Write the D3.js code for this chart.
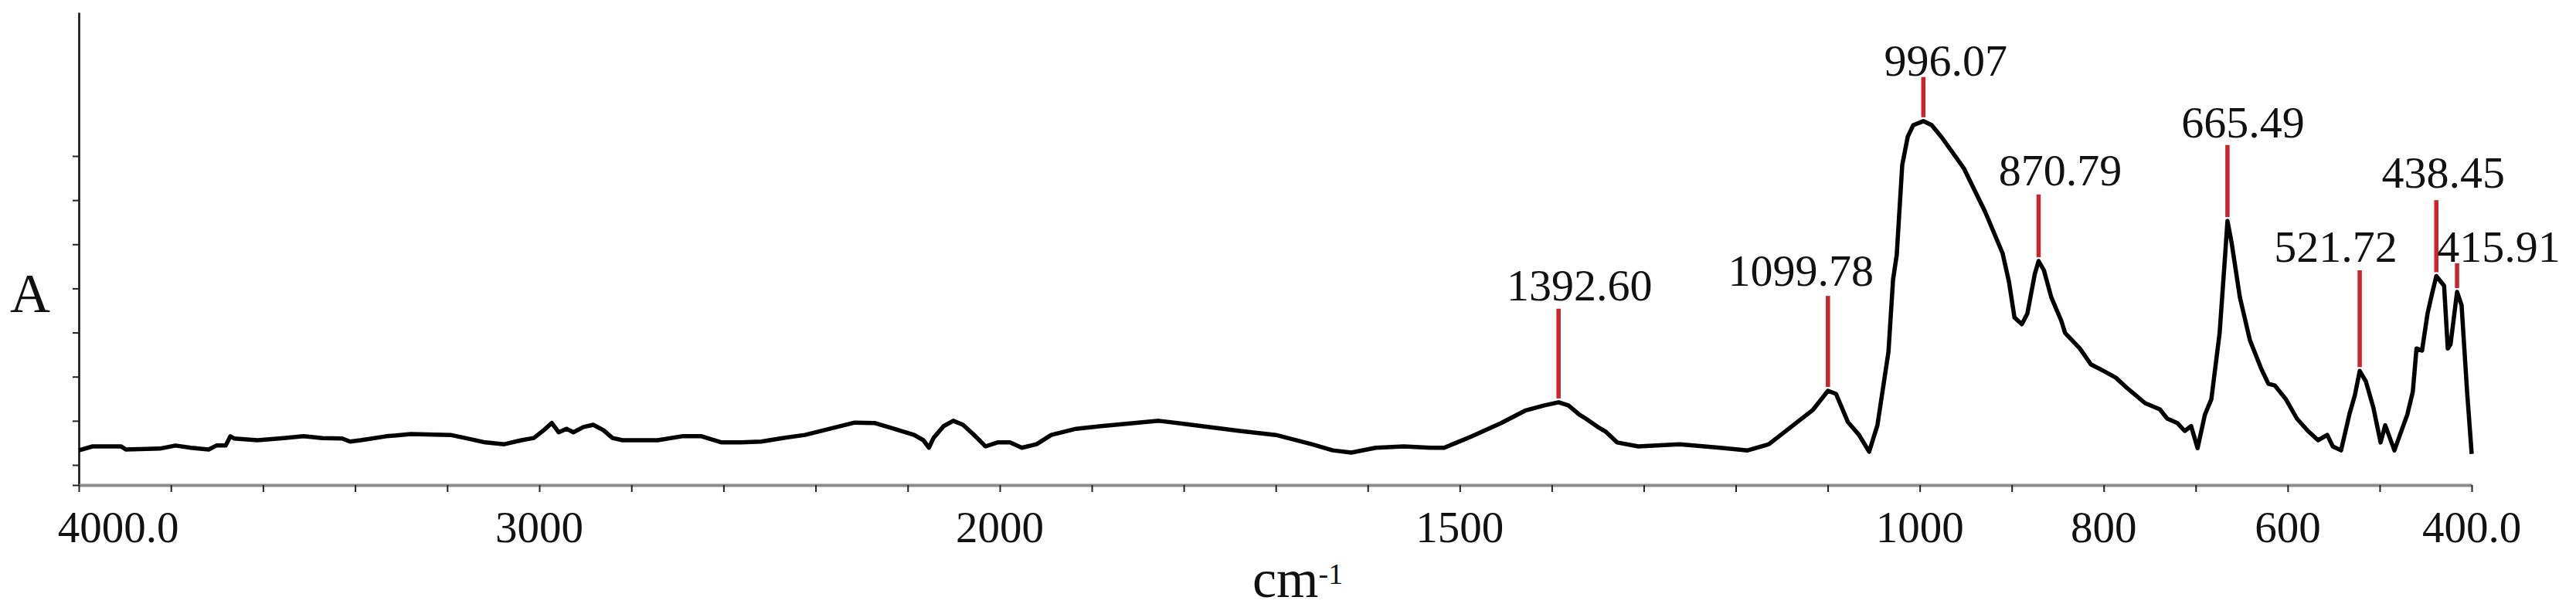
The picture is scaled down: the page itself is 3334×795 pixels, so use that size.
<!DOCTYPE html>
<meta charset="utf-8">
<head>
  <title>IR spectrum</title>
  <style>
    body { margin: 0; background: #fff; }
    text { font-family: "Liberation Serif", "Times New Roman", serif; fill: #111; }
  </style>
</head>
<body>
<div id="my_dataviz"></div>
<script src="https://d3js.org/d3.v7.min.js"></script>
<script>

// spectrum: [wavenumber cm-1, absorbance]
var spectrum = [
  [4000,0.033],[3970,0.042],[3908,0.042],[3898,0.035],[3824,0.037],[3790,0.044],[3757,0.039],
  [3718,0.035],[3701,0.044],[3681,0.044],[3671,0.065],[3663,0.060],[3612,0.056],[3555,0.061],
  [3512,0.065],[3471,0.061],[3428,0.060],[3411,0.053],[3388,0.056],[3332,0.065],[3279,0.070],
  [3193,0.068],[3161,0.061],[3117,0.051],[3076,0.047],[3039,0.056],[3012,0.061],[2990,0.079],
  [2973,0.095],[2958,0.074],[2941,0.082],[2926,0.074],[2904,0.086],[2883,0.091],[2861,0.079],
  [2841,0.061],[2819,0.056],[2743,0.056],[2690,0.065],[2648,0.065],[2604,0.051],[2562,0.051],
  [2518,0.053],[2477,0.060],[2423,0.068],[2369,0.082],[2315,0.096],[2272,0.095],[2230,0.082],
  [2186,0.068],[2166,0.056],[2154,0.039],[2144,0.061],[2122,0.088],[2101,0.100],[2080,0.091],
  [2058,0.070],[2031,0.042],[2005,0.051],[1989,0.051],[1976,0.039],[1960,0.047],[1944,0.068],
  [1917,0.082],[1890,0.088],[1827,0.100],[1792,0.091],[1739,0.077],[1700,0.068],[1661,0.047],
  [1638,0.033],[1618,0.028],[1591,0.039],[1561,0.042],[1532,0.039],[1517,0.039],[1503,0.051],
  [1488,0.064],[1455,0.095],[1429,0.123],[1408,0.135],[1392.6,0.142],[1382,0.135],[1370,0.114],
  [1363,0.105],[1350,0.086],[1341,0.075],[1329,0.051],[1306,0.042],[1261,0.047],[1217,0.039],
  [1187,0.033],[1164,0.047],[1140,0.086],[1116,0.125],[1099.78,0.168],[1091,0.161],[1078,0.097],
  [1066,0.068],[1055,0.030],[1046,0.090],[1034,0.256],[1029,0.420],[1025,0.476],[1019,0.680],
  [1013,0.744],[1007,0.770],[996.07,0.779],[987,0.770],[976,0.742],[952,0.672],[929,0.574],
  [910,0.480],[903,0.415],[897,0.334],[889,0.319],[883,0.343],[875,0.432],[870.79,0.462],
  [865,0.441],[857,0.380],[846,0.326],[842,0.299],[826,0.264],[814,0.228],[802,0.215],
  [787,0.198],[775,0.175],[755,0.140],[739,0.126],[731,0.105],[720,0.095],[712,0.077],
  [705,0.088],[698,0.038],[690,0.114],[683,0.149],[674,0.299],[668,0.476],[665.49,0.553],
  [661,0.504],[652,0.380],[641,0.282],[629,0.219],[621,0.184],[614,0.180],[602,0.149],
  [590,0.105],[578,0.077],[567,0.056],[557,0.068],[551,0.042],[542,0.033],[533,0.114],
  [527,0.158],[521.72,0.213],[515,0.189],[507,0.131],[499,0.051],[494,0.090],[484,0.033],
  [478,0.068],[470,0.114],[464,0.166],[460,0.264],[454,0.259],[448,0.343],[444,0.380],
  [438.45,0.428],[430,0.406],[426,0.264],[423,0.273],[415.91,0.392],[411,0.362],[405,0.166],
  [400,0.025]
];

// labelled peaks and the absorbance where each red mark starts
var peakPositions = [1392.60, 1099.78, 996.07, 870.79, 665.49, 521.72, 438.45, 415.91];
var peakLabels = ["1392.60", "1099.78", "996.07", "870.79", "665.49", "521.72", "438.45", "415.91"];
var peakMarkTop = [0.354, 0.383, 0.879, 0.613, 0.725, 0.441, 0.600, 0.457];

// axis ticks
var xTicks = d3.range(4000, 2000, -200).concat(d3.range(2000, 399, -100));
var xLabelValues = [4000, 3000, 2000, 1500, 1000, 800, 600, 400];
var xLabelTexts = ["4000.0", "3000", "2000", "1500", "1000", "800", "600", "400.0"];
var yTicks = [-0.0455, 0, 0.1, 0.2, 0.3, 0.4, 0.5, 0.6, 0.7];

// label nudges (layout only)
var labelDx = [27, -35, 29, 28, 20, -31, 9, 54];
var labelGap = [11, 13, 2, 12, 10, 11, 16, 2];

var width = 3334, height = 795;
var plotLeft = 102, plotRight = 3199, xBreak = 1294, plotBase = 628, plotTop = 16;

var svg = d3.select("#my_dataviz")
  .append("svg")
    .attr("width", width)
    .attr("height", height);

// wavenumber axis is compressed above 2000
var x = d3.scaleLinear()
    .domain([4000, 2000, 400])
    .range([plotLeft, xBreak, plotRight]);

var y = d3.scaleLinear()
    .domain([-0.0455, 1.0255])
    .range([plotBase, plotTop]);

// y axis (no labels)
var yAxis = svg.append("g")
    .attr("transform", "translate(" + plotLeft + ",0)")
    .call(d3.axisLeft(y).tickValues(yTicks).tickSize(8).tickSizeOuter(0).tickFormat(""));
yAxis.select(".domain").style("stroke", "#111").style("stroke-width", "2.6px");
yAxis.selectAll(".tick line").style("stroke", "#222").style("stroke-width", "2px");

// x axis
var xAxis = svg.append("g")
    .attr("transform", "translate(0," + plotBase + ")")
    .call(d3.axisBottom(x).tickValues(xTicks).tickSize(9).tickSizeOuter(0).tickFormat(""));
xAxis.select(".domain").style("stroke", "#8c8c8c").style("stroke-width", "4px");
xAxis.selectAll(".tick line").style("stroke", "#222").style("stroke-width", "2px");

svg.append("g")
  .selectAll("text")
  .data(xLabelValues)
  .enter()
  .append("text")
    .attr("x", function(d, i) { return x(d) + (i == 0 ? 51 : 0); })
    .attr("y", plotBase + 74)
    .attr("text-anchor", "middle")
    .style("font-size", "57px")
    .text(function(d, i) { return xLabelTexts[i]; });

// axis titles
var unit = svg.append("text")
    .attr("x", 1621)
    .attr("y", 773)
    .style("font-size", "70px")
    .text("cm");
unit.append("tspan")
    .attr("dy", -17)
    .style("font-size", "38px")
    .text("-1");

svg.append("text")
    .attr("x", 39)
    .attr("y", 404)
    .attr("text-anchor", "middle")
    .style("font-size", "72px")
    .text("A");

// spectrum
var line = d3.line()
    .x(function(d) { return x(d[0]); })
    .y(function(d) { return y(d[1]); });

svg.append("path")
    .datum(spectrum)
    .attr("d", line)
    .style("fill", "none")
    .style("stroke", "#000")
    .style("stroke-width", "5.5px")
    .style("stroke-linejoin", "round");

// peak marks
function peakValue(p) {
  var i = d3.minIndex(spectrum, function(d) { return Math.abs(d[0] - p); });
  return spectrum[i][1];
}

var marks = svg.append("g")
  .selectAll("g")
  .data(peakPositions)
  .enter()
  .append("g");

marks.append("line")
    .attr("x1", function(d) { return x(d); })
    .attr("x2", function(d) { return x(d); })
    .attr("y1", function(d, i) { return y(peakMarkTop[i]); })
    .attr("y2", function(d) { return y(peakValue(d)) - 5; })
    .style("stroke", "#c9252c")
    .style("stroke-width", "5.5px");

marks.append("text")
    .attr("x", function(d, i) { return x(d) + labelDx[i]; })
    .attr("y", function(d, i) { return y(peakMarkTop[i]) - labelGap[i]; })
    .attr("text-anchor", "middle")
    .style("font-size", "58px")
    .text(function(d, i) { return peakLabels[i]; });

</script>
</body>
</html>
